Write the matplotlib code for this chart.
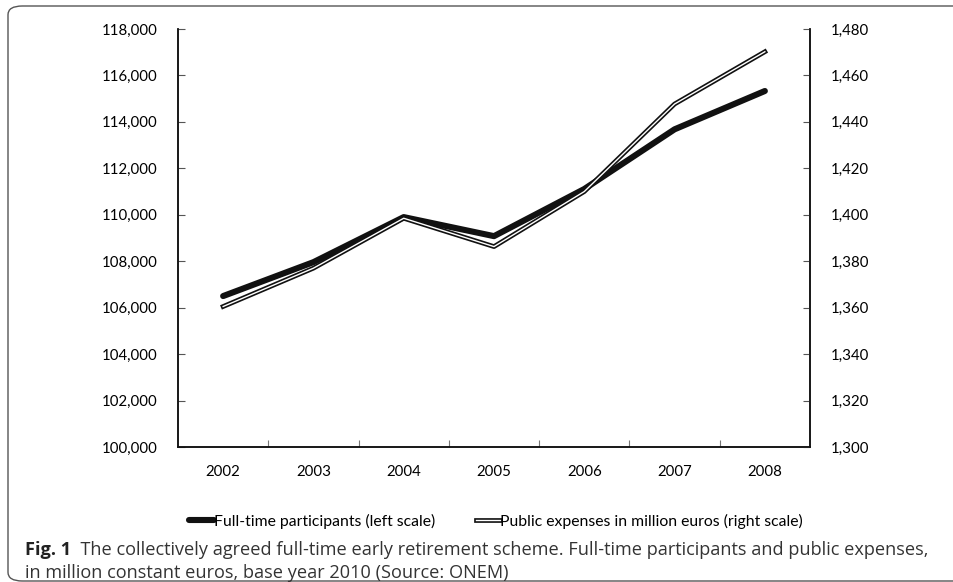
import matplotlib
matplotlib.use("Agg")
import matplotlib.pyplot as plt
from matplotlib.patches import FancyBboxPatch
from matplotlib.ticker import FuncFormatter, MultipleLocator

years = ["2002", "2003", "2004", "2005", "2006", "2007", "2008"]
participants = [106500, 107960, 109900, 109080, 111110, 113680, 115330]
expenses = [1360.5, 1377.0, 1398.5, 1386.3, 1410.0, 1447.7, 1470.2]

plt.rcParams["font.family"] = ["Lato", "DejaVu Sans"]

fig = plt.figure(figsize=(9.54, 5.82), dpi=100)
W, H = 954, 582
ax = fig.add_axes([178 / W, 1 - 447 / H, (810 - 178) / W, (447 - 29) / H])
ax2 = ax.twinx()

x = list(range(len(years)))
(l1,) = ax.plot(x, participants, color="#111111", lw=4.4, solid_capstyle="round",
                solid_joinstyle="round", zorder=3)
(l2a,) = ax2.plot(x, expenses, color="#111111", lw=3.4, zorder=2)
(l2b,) = ax2.plot(x, expenses, color="white", lw=1.0, zorder=2)

ax.set_xlim(-0.5, 6.5)
ax.set_ylim(100000, 118000)
ax2.set_ylim(1300, 1480)
ax.yaxis.set_major_locator(MultipleLocator(2000))
ax2.yaxis.set_major_locator(MultipleLocator(20))
ax.yaxis.set_major_formatter(FuncFormatter(lambda v, p: f"{v:,.0f}"))
ax2.yaxis.set_major_formatter(FuncFormatter(lambda v, p: f"{v:,.0f}"))

ax.set_xticks(x)
ax.set_xticklabels(years)
ax.set_xticks([i + 0.5 for i in range(6)], minor=True)
ax.tick_params(axis="x", which="major", length=0, pad=13, labelsize=10.8)
ax.tick_params(axis="x", which="minor", direction="in", length=5, width=0.8, color="#777777")
ax.tick_params(axis="y", direction="in", length=5, width=0.8, pad=15, labelsize=10.8,
               color="#555555")
ax2.tick_params(axis="y", direction="in", length=5, width=0.8, pad=15, labelsize=10.8,
                color="#555555")

for a in (ax, ax2):
    a.spines["top"].set_visible(False)
    for s in ("left", "right", "bottom"):
        a.spines[s].set_linewidth(1.1)
        a.spines[s].set_color("#111111")

fig.legend([l1, (l2a, l2b)],
           ["Full-time participants (left scale)", "Public expenses in million euros (right scale)"],
           loc="center", bbox_to_anchor=(496 / W, 1 - 521 / H), ncol=2, frameon=False,
           handlelength=1.55, handletextpad=0.0, columnspacing=2.6, fontsize=11.3)

# caption
cap_color = "#333333"
cap_font = ["Open Sans", "DejaVu Sans"]
t1 = fig.text(25 / W, 1 - 555 / H, "Fig. 1", fontsize=13.1, fontweight="bold",
              color="#222222", va="baseline", family=cap_font)
fig.text(25 / W, 1 - 578 / H,
         "in million constant euros, base year 2010 (Source: ONEM)",
         fontsize=13.1, color=cap_color, va="baseline", family=cap_font)
ax.annotate("  The collectively agreed full-time early retirement scheme. Full-time participants and public expenses,",
            xy=(1, 1 - 555 / H), xycoords=(t1, "figure fraction"), va="baseline",
            fontsize=13.1, color=cap_color, family=cap_font, annotation_clip=False)

border = FancyBboxPatch((8 / W, 1 / H), 1.2, 1 - 7 / H,
                        boxstyle="round,pad=0,rounding_size=0.015",
                        transform=fig.transFigure, fill=False, edgecolor="#555555",
                        lw=1.0, clip_on=False)
fig.patches.append(border)

fig.savefig("out.png", dpi=100)
